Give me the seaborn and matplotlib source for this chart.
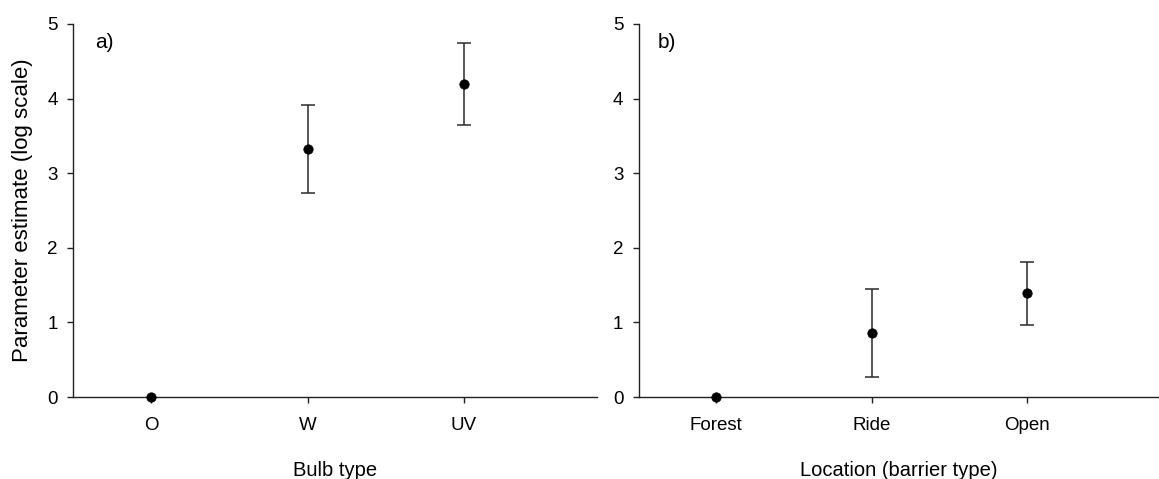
import matplotlib
matplotlib.use("Agg")
import matplotlib.pyplot as plt
import seaborn as sns
import pandas as pd
import numpy as np

# ---- data ----
bulb_types = ["O", "W", "UV"]
bulb_est = [0.0, 3.32, 4.19]
bulb_lower = [0.0, 2.73, 3.64]
bulb_upper = [0.0, 3.91, 4.75]

locations = ["Forest", "Ride", "Open"]
loc_est = [0.0, 0.86, 1.39]
loc_lower = [0.0, 0.27, 0.97]
loc_upper = [0.0, 1.45, 1.81]

y_ticks = [0, 1, 2, 3, 4, 5]

sns.set_theme(style="ticks")
plt.rcParams["font.family"] = ["Liberation Sans", "DejaVu Sans"]
plt.rcParams["text.color"] = "black"
plt.rcParams["axes.labelcolor"] = "black"

fig = plt.figure(figsize=(11.59, 4.79), dpi=100)
ax1 = fig.add_axes([0.063, 0.171, 0.452, 0.779])
ax2 = fig.add_axes([0.551, 0.171, 0.449, 0.779])


def panel(ax, cats, est, lo, hi, xlabel, tag, tagx, ylabel=None):
    df = pd.DataFrame({"cat": cats, "est": est})
    x = np.arange(len(cats))
    yerr = [np.array(est) - np.array(lo), np.array(hi) - np.array(est)]
    mask = (yerr[0] > 0) | (yerr[1] > 0)
    ax.errorbar(x[mask], np.array(est)[mask],
                yerr=[yerr[0][mask], yerr[1][mask]],
                fmt="none", ecolor="#2a2a2a", elinewidth=1.1,
                capsize=5, capthick=1.1, zorder=2)
    sns.scatterplot(data=df, x="cat", y="est", ax=ax, color="black",
                    s=46, edgecolor="black", linewidth=0.5, zorder=3,
                    clip_on=False)
    ax.set_xlim(-0.5, 2.85)
    ax.set_ylim(0, 5)
    ax.set_yticks(y_ticks)
    ax.set_yticklabels([str(t) for t in y_ticks])
    ax.set_xticks(x)
    ax.set_xticklabels(cats)
    ax.tick_params(axis="both", labelsize=13.5, length=4, width=1,
                   color="#222222", labelcolor="black")
    ax.tick_params(axis="x", pad=10)
    ax.tick_params(axis="y", pad=7)
    for s in ["top", "right"]:
        ax.spines[s].set_visible(False)
    for s in ["left", "bottom"]:
        ax.spines[s].set_color("#222222")
        ax.spines[s].set_linewidth(1.0)
    ax.set_xlabel(xlabel, fontsize=14.5, labelpad=20, color="black")
    if ylabel:
        ax.set_ylabel(ylabel, fontsize=16, labelpad=10, color="black")
    else:
        ax.set_ylabel("")
    ax.text(tagx, 0.95, tag, transform=ax.transAxes, fontsize=15,
            ha="left", va="center", color="black")


panel(ax1, bulb_types, bulb_est, bulb_lower, bulb_upper, "Bulb type", "a)",
      0.042, ylabel="Parameter estimate (log scale)")
panel(ax2, locations, loc_est, loc_lower, loc_upper,
      "Location (barrier type)", "b)", 0.037)

fig.savefig("out.png", dpi=100)
